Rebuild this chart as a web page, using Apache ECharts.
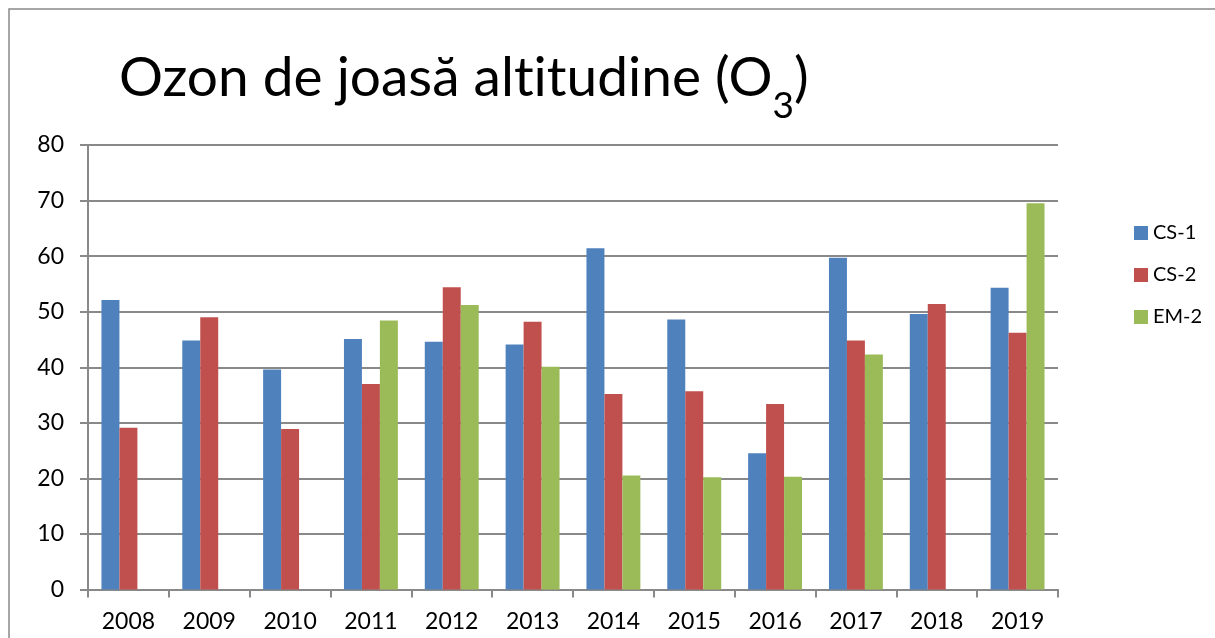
<!DOCTYPE html>
<html>
<head>
<meta charset="utf-8">
<script src="https://cdn.jsdelivr.net/npm/echarts@6/dist/echarts.min.js"></script>
<style>
html,body{margin:0;padding:0;background:#fff}
#chart{width:1215px;height:638px}
</style>
</head>
<body>
<div id="chart"></div>
<script>
// years on the x axis
const years=['2008','2009','2010','2011','2012','2013','2014','2015','2016','2017','2018','2019'];
// values, null where the station has no bar
const cs1=[52.1,44.8,39.6,45.1,44.6,44.1,61.4,48.6,24.5,59.7,49.6,54.3];
const cs2=[29.1,49.0,28.9,37.0,54.4,48.2,35.2,35.7,33.4,44.8,51.4,46.2];
const em2=[null,null,null,48.4,51.2,40.1,20.5,20.2,20.3,42.3,null,69.5];
const seriesNames=['CS-1','CS-2','EM-2'];
const colors=['#4F81BD','#C0504D','#9BBB59'];

const font='Lato';
const gray='#898989';

function bar(name,data,color){
 return {name:name,type:'bar',data:data,barGap:'0%',barCategoryGap:'33.3%',
  itemStyle:{color:color},emphasis:{disabled:true}};
}

var c=echarts.init(document.getElementById('chart'));
c.setOption({
 animation:false,
 textStyle:{fontFamily:font,color:'#000'},
 title:{
  left:114,top:26,
  // split in pieces so the font does not join "ti"
  text:'{a|Ozon de joasă alt}{a|itudine (O}{s|3}{a|)}',
  textStyle:{
   rich:{
    a:{fontFamily:font,fontSize:55,fontWeight:'normal',color:'#000',lineHeight:70,verticalAlign:'middle'},
    s:{fontFamily:font,fontSize:37,fontWeight:'normal',color:'#000',lineHeight:94,verticalAlign:'bottom'}
   }
  }
 },
 graphic:[{type:'rect',silent:true,shape:{x:9,y:9,width:1300,height:800},
  style:{fill:'none',stroke:gray,lineWidth:1.5}}],
 legend:{
  orient:'vertical',left:1129,top:218,
  itemWidth:14,itemHeight:14,itemGap:22,icon:'rect',
  textStyle:{fontFamily:font,fontSize:20,color:'#000'},
  data:seriesNames
 },
 grid:{left:88,top:145,right:157,bottom:48.5},
 xAxis:{
  type:'category',data:years,
  axisLine:{lineStyle:{color:gray,width:2}},
  axisTick:{show:true,length:8,lineStyle:{color:gray,width:2}},
  axisLabel:{fontFamily:font,fontSize:23,color:'#000',margin:21}
 },
 yAxis:{
  type:'value',min:0,max:80,interval:10,
  axisLine:{show:true,lineStyle:{color:gray,width:2}},
  axisTick:{show:true,length:8,lineStyle:{color:gray,width:2}},
  splitLine:{lineStyle:{color:gray,width:2}},
  axisLabel:{fontFamily:font,fontSize:23,color:'#000',margin:24}
 },
 series:[bar(seriesNames[0],cs1,colors[0]),bar(seriesNames[1],cs2,colors[1]),bar(seriesNames[2],em2,colors[2])]
});
</script>
</body>
</html>
